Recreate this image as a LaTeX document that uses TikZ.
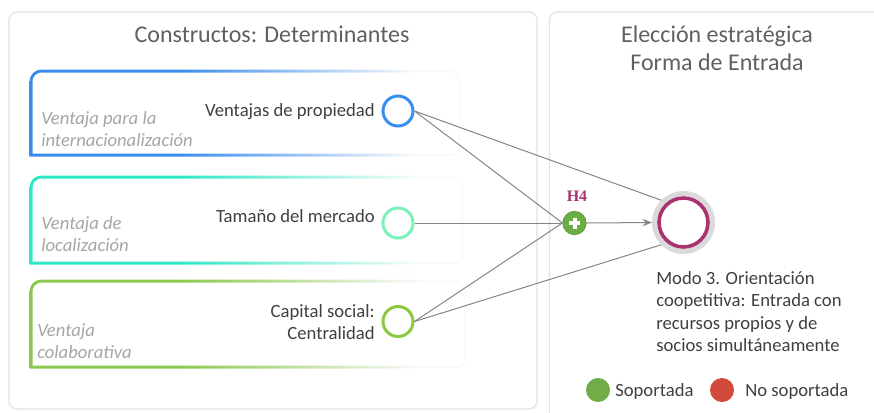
\documentclass[tikz,border=0pt]{standalone}
\usepackage{fontspec}
\setmainfont{Carlito}
\newfontfamily\hfont{Liberation Serif}
\usetikzlibrary{arrows.meta}
\definecolor{boxA}{HTML}{3A8EF0}
\definecolor{boxB}{HTML}{2EEBC8}
\definecolor{boxC}{HTML}{8CCB50}
\definecolor{cirA}{HTML}{3A8EF0}
\definecolor{cirB}{HTML}{7CF2B8}
\definecolor{cirC}{HTML}{8CC940}
\definecolor{hgreen}{HTML}{6AAD45}
\definecolor{hgreenD}{HTML}{5E9E3A}
\definecolor{mag}{HTML}{A8336F}
\definecolor{ring}{HTML}{DADADA}
\definecolor{panelc}{HTML}{E3E3E3}
\definecolor{linec}{HTML}{858585}
\definecolor{txt}{HTML}{404040}
\definecolor{titc}{HTML}{606060}
\definecolor{lab}{HTML}{A6A6A6}
\definecolor{legG}{HTML}{70AD47}
\definecolor{legR}{HTML}{D24B3A}
\pgfdeclarehorizontalshading{shA}{100bp}{color(0bp)=(boxA); color(25bp)=(boxA); color(42bp)=(boxA); color(70bp)=(white); color(100bp)=(white)}
\pgfdeclarehorizontalshading{shB}{100bp}{color(0bp)=(boxB); color(25bp)=(boxB); color(42bp)=(boxB); color(70bp)=(white); color(100bp)=(white)}
\pgfdeclarehorizontalshading{shC}{100bp}{color(0bp)=(boxC); color(25bp)=(boxC); color(42bp)=(boxC); color(70bp)=(white); color(100bp)=(white)}
\newcommand{\gbox}[4]{%
  \shade[shading=#4] (29.5,#2+1.5) [rounded corners=9pt] -- (29.5,#1-1.5) -- (#3+1.5,#1-1.5) [rounded corners=6pt] -- (#3+1.5,#2+1.5) [sharp corners] -- cycle;
  \fill[white] (32.5,#2-1.5) [rounded corners=7pt] -- (32.5,#1+1.5) -- (#3-1.5,#1+1.5) [rounded corners=4.5pt] -- (#3-1.5,#2-1.5) [sharp corners] -- cycle;
  \draw[black, opacity=0.03, line width=0.75pt] (31,#2) [rounded corners=8pt] -- (31,#1) -- (#3,#1) [rounded corners=5pt] -- (#3,#2) [sharp corners] -- cycle;
}
\begin{document}
\begin{tikzpicture}[x=0.75pt,y=-0.75pt,
  panel/.style={draw=panelc, line width=0.9pt, fill=white, rounded corners=6pt},
  titletext/.style={text=titc, font=\fontsize{18}{21}\selectfont, inner sep=0},
  labtext/.style={text=lab, font=\fontsize{14}{17}\selectfont\itshape, inner sep=0, anchor=base west},
  maintext/.style={text=txt, font=\fontsize{14}{17}\selectfont, inner sep=0},
  pt/.style={circle, line width=2.25pt, minimum size=22.5pt, inner sep=0, fill=white},
  conn/.style={draw=linec, line width=0.75pt}]
\useasboundingbox (0,0) rectangle (874,412);
\clip (0,0) rectangle (874,412);
\fill[white] (0,0) rectangle (874,412);
% panels
\draw[panel] (9,12) rectangle (537,409);
\draw[panel] (549.5,12) rectangle (900,440);
% titles
\node[titletext, anchor=base] (t1) at (272,42) {Constructos: Determinantes};
\node[titletext, anchor=base] (t2) at (717,42) {Elección estratégica};
\node[titletext, anchor=base] (t3) at (717,70) {Forma de Entrada};
% boxes
\gbox{71}{155}{459}{shA}
\gbox{177}{263}{462}{shB}
\gbox{281}{367}{465}{shC}
% box labels
\node[labtext] (la1) at (41,124) {Ventaja para la};
\node[labtext] (la2) at (41,146) {internacionalización};
\node[labtext] (lb1) at (41,229) {Ventaja de};
\node[labtext] (lb2) at (41,251) {localización};
\node[labtext] (lc1) at (37,336) {Ventaja};
\node[labtext] (lc2) at (37,358) {colaborativa};
% constructs
\node[maintext, anchor=base east] (n1) at (375,116) {Ventajas de propiedad};
\node[maintext, anchor=base east] (n2) at (375,222) {Tamaño del mercado};
\node[maintext, anchor=base east] (n3a) at (375,317) {Capital social:};
\node[maintext, anchor=base east] (n3b) at (375,339) {Centralidad};
\node[pt, draw=cirA] (c1) at (398,111) {};
\node[pt, draw=cirB] (c2) at (398,223) {};
\node[pt, draw=cirC] (c3) at (398,321.5) {};
% hypothesis and target
\node[circle, fill=hgreen, draw=hgreenD, line width=0.6pt, minimum size=17.5pt, inner sep=0] (h4) at (574.5,223) {};
\draw[white, line width=3pt] (h4.center) +(-5.5,0) -- +(5.5,0) (h4.center) +(0,-5.5) -- +(0,5.5);
\node[inner sep=0, text=mag, font=\hfont\bfseries\fontsize{12}{14}\selectfont, anchor=base] (h4l) at (577,201) {H4};
\node[circle, draw=ring, line width=3.75pt, minimum size=43.5pt, inner sep=0, fill=white] (tgt) at (683.5,222.5) {};
\node[circle, draw=mag, line width=2.7pt, minimum size=36.75pt, inner sep=0] (tgti) at (683.5,222.5) {};
% connectors
\draw[conn] (c1.east) -- (h4.west);
\draw[conn] (c2.east) -- (h4.west);
\draw[conn] (c3.east) -- (h4.west);
\draw[conn] (c1.east) -- (tgt.135);
\draw[conn] (c3.east) -- (tgt.225);
\draw[conn, -{Stealth[length=7pt,width=5.5pt]}] (h4.east) -- (tgt.west);
% result text
\node[maintext, anchor=base west] (m1) at (656,284) {Modo 3. Orientación};
\node[maintext, anchor=base west] (m2) at (656,306.5) {coopetitiva: Entrada con};
\node[maintext, anchor=base west] (m3) at (656,329) {recursos propios y de};
\node[maintext, anchor=base west] (m4) at (656,351.5) {socios simultáneamente};
% legend
\node[circle, fill=legG, minimum size=18pt, inner sep=0] (lg) at (598,390) {};
\node[maintext, anchor=base west] (lgt) at (615,396) {Soportada};
\node[circle, fill=legR, minimum size=18pt, inner sep=0] (lr) at (722,390) {};
\node[maintext, anchor=base west] (lrt) at (745,396) {No soportada};
\end{tikzpicture}
\end{document}
